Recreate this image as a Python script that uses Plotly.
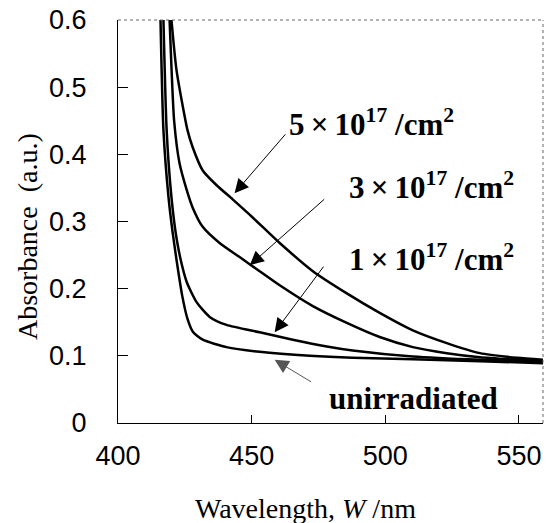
import plotly.graph_objects as go

# Data (wavelength nm, absorbance a.u.)
wl_5e17 = [420.0, 421.9, 426.0, 427.9, 431.7, 436.9, 442.9, 450.4, 460.5, 472.9, 485.6, 497.9, 510.3, 523.0, 535.4, 549.3, 559.0]
ab_5e17 = [0.600, 0.525, 0.436, 0.411, 0.376, 0.354, 0.333, 0.306, 0.268, 0.226, 0.193, 0.164, 0.138, 0.119, 0.104, 0.097, 0.094]

wl_3e17 = [419.3, 420.0, 421.0, 423.0, 425.7, 427.9, 431.7, 438.0, 445.5, 453.0, 460.5, 472.9, 485.6, 497.9, 510.3, 523.0, 535.4, 559.0]
ab_3e17 = [0.600, 0.530, 0.450, 0.387, 0.347, 0.321, 0.292, 0.268, 0.247, 0.226, 0.205, 0.174, 0.149, 0.128, 0.113, 0.104, 0.098, 0.092]

wl_1e17 = [417.0, 418.2, 420.0, 421.9, 423.8, 425.7, 429.4, 434.3, 440.6, 453.0, 465.4, 478.1, 487.8, 510.3, 535.4, 559.0]
ab_1e17 = [0.600, 0.436, 0.336, 0.275, 0.237, 0.210, 0.180, 0.158, 0.146, 0.135, 0.124, 0.114, 0.108, 0.099, 0.094, 0.091]

wl_unirr = [415.9, 417.0, 418.9, 420.4, 422.0, 424.0, 426.0, 428.0, 431.7, 440.6, 453.0, 471.7, 487.8, 510.3, 535.4, 559.0]
ab_unirr = [0.600, 0.436, 0.336, 0.285, 0.240, 0.190, 0.155, 0.136, 0.124, 0.113, 0.106, 0.100, 0.097, 0.095, 0.092, 0.089]

x_ticks = [400, 450, 500, 550]
y_ticks = [0, 0.1, 0.2, 0.3, 0.4, 0.5, 0.6]
y_ticktext = ["0", "0.1", "0.2", "0.3", "0.4", "0.5", "0.6"]

labels = ["5\u2009×\u200910<sup>17</sup> /cm<sup>2</sup>", "3\u2009×\u200910<sup>17</sup> /cm<sup>2</sup>",
          "1\u2009×\u200910<sup>17</sup> /cm<sup>2</sup>", "unirradiated"]
label_x = [463.1, 485.6, 485.6, 478.1]
label_y = [0.448, 0.354, 0.247, 0.036]
arrow_head_x = [443.6, 449.3, 458.6, 458.6]
arrow_head_y = [0.342, 0.235, 0.135, 0.094]
arrow_tail_x = [463.1, 477.7, 477.3, 472.8]
arrow_tail_y = [0.432, 0.335, 0.235, 0.060]
arrow_colors = ["black", "black", "black", "#555555"]

fig = go.Figure()
for wl, ab in [(wl_unirr, ab_unirr), (wl_1e17, ab_1e17), (wl_3e17, ab_3e17), (wl_5e17, ab_5e17)]:
    fig.add_trace(go.Scatter(x=wl, y=ab, mode="lines",
                             line=dict(color="black", width=2.5, shape="spline", smoothing=0.6),
                             showlegend=False, hoverinfo="skip"))

serif = "Liberation Serif, Times New Roman, serif"
sans = "Liberation Sans, Arial, sans-serif"

for i in range(4):
    fig.add_annotation(x=arrow_head_x[i], y=arrow_head_y[i], ax=arrow_tail_x[i], ay=arrow_tail_y[i],
                       xref="x", yref="y", axref="x", ayref="y", text="", showarrow=True,
                       arrowhead=2, arrowsize=2.8, arrowwidth=1, arrowcolor=arrow_colors[i])
    fig.add_annotation(x=label_x[i], y=label_y[i], xref="x", yref="y", text="<b>" + labels[i] + "</b>",
                       showarrow=False, xanchor="left", yanchor="middle",
                       font=dict(family=serif, size=31, color="black"))

# axis titles
fig.add_annotation(x=0.44, y=-0.211, xref="paper", yref="paper", text="Wavelength, <i>W</i> /nm",
                   showarrow=False, xanchor="center", yanchor="middle",
                   font=dict(family=serif, size=28, color="black"))
fig.add_annotation(x=-0.214, y=0.4615, xref="paper", yref="paper", text="Absorbance  (a.u.)",
                   showarrow=False, xanchor="center", yanchor="middle", textangle=-90,
                   font=dict(family=serif, size=28, color="black"))

# dotted top and right frame
fig.add_shape(type="line", xref="paper", yref="paper", x0=0, x1=1, y0=1, y1=1,
              line=dict(color="#666666", width=1, dash="dot"))
fig.add_shape(type="line", xref="paper", yref="paper", x0=1, x1=1, y0=0, y1=1,
              line=dict(color="#666666", width=1, dash="dot"))

fig.update_layout(
    width=547, height=523,
    margin=dict(l=118, r=4, t=20, b=100),
    paper_bgcolor="white", plot_bgcolor="white",
    xaxis=dict(range=[400, 559], tickvals=x_ticks, ticks="inside", ticklen=8, tickcolor="black",
               showline=True, linecolor="black", linewidth=1, showgrid=False, zeroline=False,
               automargin=False, ticklabeloverflow="allow",
               tickfont=dict(family=sans, size=27, color="black"), ticklabelstandoff=9),
    yaxis=dict(range=[0, 0.6], tickvals=y_ticks, ticktext=y_ticktext, ticks="inside", ticklen=10,
               tickcolor="black", showline=True, linecolor="black", linewidth=1, showgrid=False,
               zeroline=False, automargin=False, ticklabeloverflow="allow",
               tickfont=dict(family=sans, size=27, color="black"), ticklabelstandoff=25),
)

# remove the default 8px page margin so the 547x523 figure fills the window
fig.write_html("out.html", config={"displayModeBar": False},
               post_script="document.body.style.margin='0px';")
